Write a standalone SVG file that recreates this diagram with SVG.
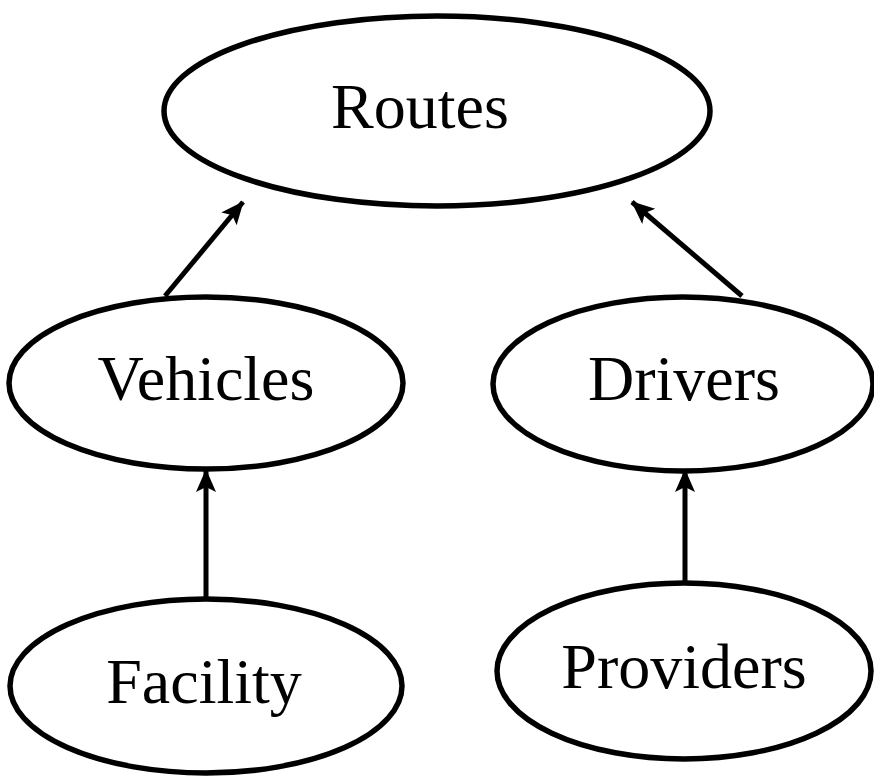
<svg xmlns="http://www.w3.org/2000/svg" width="874" height="780" viewBox="0 0 874 780">
<style>
.node ellipse { fill: #ffffff; stroke: #000000; stroke-width: 5.5; }
.node text { font-family: "Liberation Serif", "Times New Roman", serif; font-size: 64px; fill: #000000; text-anchor: middle; }
.edge { stroke: #000000; stroke-width: 5; fill: none; marker-end: url(#arrow); }
</style>
<defs>
<marker id="arrow" markerUnits="userSpaceOnUse" markerWidth="26" markerHeight="22" refX="22" refY="10" orient="auto">
<path d="M0,0 L23,10 L0,20 L5,10 Z" fill="#000000"/>
</marker>
</defs>
<rect width="874" height="780" fill="#ffffff"/>
<g id="connectors">
<line class="edge" x1="165" y1="296" x2="243" y2="202"/>
<line class="edge" x1="742" y1="296" x2="632" y2="202"/>
<line class="edge" x1="206" y1="600" x2="206" y2="470"/>
<line class="edge" x1="685" y1="583" x2="685" y2="470"/>
</g>
<g id="node-routes" class="node">
<ellipse cx="437" cy="111" rx="273" ry="95"/>
<text x="420" y="128">Routes</text>
</g>
<g id="node-vehicles" class="node">
<ellipse cx="206" cy="383" rx="197" ry="86"/>
<text x="206" y="400">Vehicles</text>
</g>
<g id="node-drivers" class="node">
<ellipse cx="683" cy="384" rx="190" ry="87"/>
<text x="684" y="400">Drivers</text>
</g>
<g id="node-facility" class="node">
<ellipse cx="206" cy="686" rx="196" ry="87"/>
<text x="204" y="703">Facility</text>
</g>
<g id="node-providers" class="node">
<ellipse cx="684" cy="671" rx="187" ry="88"/>
<text x="684" y="688">Providers</text>
</g>
</svg>
